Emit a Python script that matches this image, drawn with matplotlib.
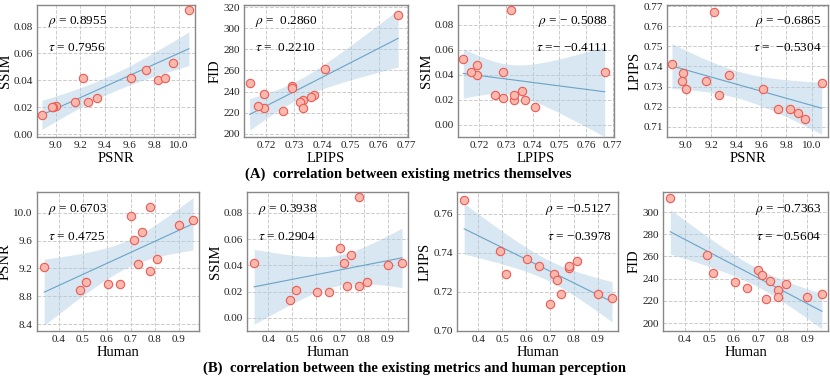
import numpy as np
import matplotlib
matplotlib.use("Agg")
import matplotlib.pyplot as plt

plt.rcParams['font.family'] = ['Liberation Serif', 'DejaVu Serif']
plt.rcParams['mathtext.fontset'] = 'stix'

# per-model metric values (14 models)
human = [0.34, 0.49, 0.515, 0.605, 0.655, 0.70, 0.715, 0.73, 0.748, 0.78, 0.78, 0.812, 0.90, 0.96]
psnr  = [9.22, 8.89, 9.00, 8.98, 8.97, 9.95, 9.61, 9.26, 9.73, 10.08, 9.16, 9.34, 9.83, 9.89]
ssim  = [0.042, 0.014, 0.021, 0.020, 0.020, 0.053, 0.042, 0.024, 0.048, 0.092, 0.024, 0.027, 0.040, 0.042]
lpips = [0.767, 0.741, 0.729, 0.737, 0.733, 0.714, 0.729, 0.726, 0.719, 0.732, 0.733, 0.736, 0.719, 0.717]
fid   = [313, 261, 245, 237, 232, 248, 243, 222, 238, 230, 224, 235, 224, 226]

R = r'$\rho$'
T = r'$\tau$'
panels_a = [
    (psnr, ssim, 'PSNR', 'SSIM', R + ' = 0.8955', T + ' = 0.7956', 'left'),
    (lpips, fid, 'LPIPS', 'FID', R + ' =  0.2860', T + ' =  0.2210', 'left'),
    (lpips, ssim, 'LPIPS', 'SSIM', R + ' = − 0.5088', T + ' =− −0.4111', 'right'),
    (psnr, lpips, 'PSNR', 'LPIPS', R + ' = −0.6865', T + ' =  −0.5304', 'right'),
]
panels_b = [
    (human, psnr, 'Human', 'PSNR', R + ' = 0.6703', T + ' = 0.4725', 'left'),
    (human, ssim, 'Human', 'SSIM', R + ' = 0.3938', T + ' = 0.2904', 'left'),
    (human, lpips, 'Human', 'LPIPS', R + ' = −0.5127', T + ' = −0.3978', 'right'),
    (human, fid, 'Human', 'FID', R + ' = −0.7363', T + ' = −0.5604', 'right'),
]

W, H = 830, 378
fig = plt.figure(figsize=(W / 100, H / 100), dpi=100)

def box(l, r, t, b):
    return [l / W, 1 - b / H, (r - l) / W, (b - t) / H]

boxes_a = [box(37, 195, 5, 137), box(244, 408, 5, 137), box(458, 614, 5, 137), box(667, 828, 5, 137)]
boxes_b = [box(37, 199, 192, 331), box(247, 408, 192, 331), box(457, 618, 192, 331), box(663, 828, 192, 331)]

lims_a = [
    ((8.85, 10.13), (-0.002, 0.096), np.arange(9.0, 10.01, 0.2), np.arange(0, 0.081, 0.02), '{:.1f}', '{:.2f}'),
    ((0.712, 0.7705), (197, 322), np.arange(0.72, 0.771, 0.01), np.arange(200, 321, 20), '{:.2f}', '{:.0f}'),
    ((0.712, 0.7705), (-0.01, 0.096), np.arange(0.72, 0.771, 0.01), np.arange(0, 0.081, 0.02), '{:.2f}', '{:.2f}'),
    ((8.85, 10.13), (0.705, 0.7705), np.arange(9.0, 10.01, 0.2), np.arange(0.71, 0.771, 0.01), '{:.1f}', '{:.2f}'),
]
lims_b = [
    ((0.31, 0.985), (8.3, 10.3), np.arange(0.4, 0.91, 0.1), np.arange(8.4, 10.01, 0.4), '{:.1f}', '{:.1f}'),
    ((0.31, 0.985), (-0.01, 0.096), np.arange(0.4, 0.91, 0.1), np.arange(0, 0.081, 0.02), '{:.1f}', '{:.2f}'),
    ((0.31, 0.985), (0.70, 0.771), np.arange(0.4, 0.91, 0.1), np.arange(0.70, 0.761, 0.02), '{:.1f}', '{:.2f}'),
    ((0.31, 0.985), (193, 318), np.arange(0.4, 0.91, 0.1), np.arange(200, 301, 20), '{:.1f}', '{:.0f}'),
]

def t_crit(df):
    table = {10: 2.228, 11: 2.201, 12: 2.179, 13: 2.160}
    return table.get(df, 2.0)

def draw(ax, x, y, xl, yl, rt, tt, side, lim):
    x = np.asarray(x, float); y = np.asarray(y, float)
    (xlo, xhi), (ylo, yhi), xt, yt, xf, yf = lim
    n = len(x)
    b1, b0 = np.polyfit(x, y, 1)
    xs = np.linspace(x.min(), x.max(), 100)
    yh = b0 + b1 * xs
    resid = y - (b0 + b1 * x)
    s = np.sqrt(np.sum(resid ** 2) / (n - 2))
    se = s * np.sqrt(1 / n + (xs - x.mean()) ** 2 / np.sum((x - x.mean()) ** 2))
    tc = t_crit(n - 2)
    ax.fill_between(xs, yh - tc * se, yh + tc * se, color='#a9cbe0', alpha=0.45, lw=0, zorder=1)
    ax.plot(xs, yh, color='#6aa3c8', lw=0.8, zorder=2)
    ax.scatter(x, y, s=36, facecolor='#f9b9ae', edgecolor='#ee5a52', linewidth=0.8, zorder=3)
    ax.set_xlim(xlo, xhi); ax.set_ylim(ylo, yhi)
    ax.set_xticks(xt); ax.set_yticks(yt)
    ax.set_xticklabels([xf.format(v) for v in xt])
    ax.set_yticklabels([yf.format(v) for v in yt])
    ax.tick_params(labelsize=8, length=0, pad=3, colors='#222222')
    ax.grid(True, ls='--', color='#cccccc', lw=0.7)
    ax.set_axisbelow(True)
    for sp in ax.spines.values():
        sp.set_color('#888888'); sp.set_linewidth(1.0)
    ax.set_xlabel(xl, fontsize=10.5, labelpad=1)
    ax.set_ylabel(yl, fontsize=10.5, labelpad=1)
    fs = 9.5
    if side == 'left':
        ax.text(0.07, 0.93, rt, transform=ax.transAxes, fontsize=fs, va='top', ha='left')
        ax.text(0.07, 0.72, tt, transform=ax.transAxes, fontsize=fs, va='top', ha='left')
    else:
        ax.text(0.96, 0.93, rt, transform=ax.transAxes, fontsize=fs, va='top', ha='right')
        ax.text(0.96, 0.72, tt, transform=ax.transAxes, fontsize=fs, va='top', ha='right')

for p, bx, lm in zip(panels_a, boxes_a, lims_a):
    ax = fig.add_axes(bx)
    draw(ax, *p, lm)
for p, bx, lm in zip(panels_b, boxes_b, lims_b):
    ax = fig.add_axes(bx)
    draw(ax, *p, lm)

fig.text(408 / W, 1 - 174 / H, '(A)  correlation between existing metrics themselves',
         ha='center', va='center', fontsize=10.6, fontweight='bold')
fig.text(414 / W, 1 - 368 / H, '(B)  correlation between the existing metrics and human perception',
         ha='center', va='center', fontsize=10.6, fontweight='bold')

fig.savefig('out.png', dpi=100)
